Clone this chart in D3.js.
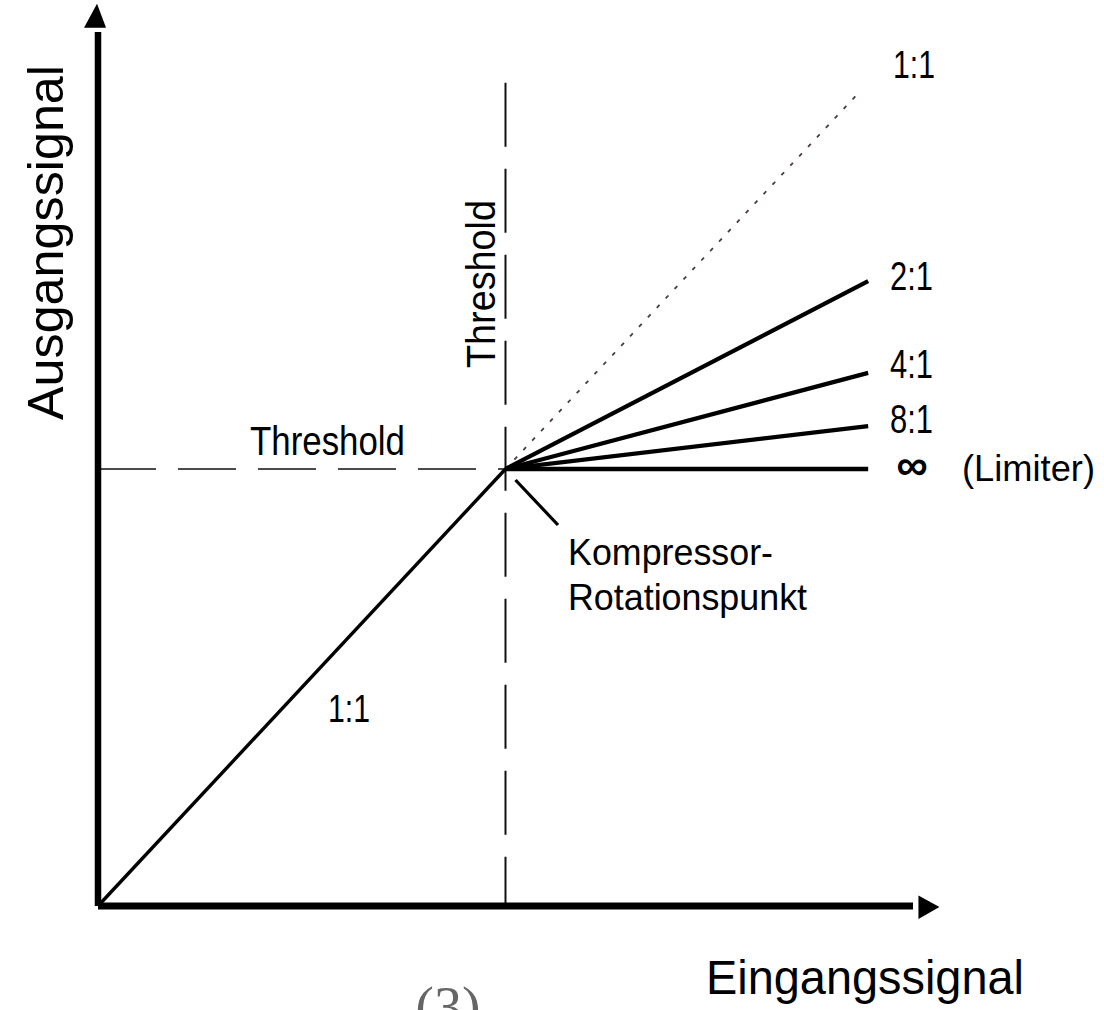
<!DOCTYPE html>
<html>
<head>
<meta charset="utf-8">
<script src="https://cdn.jsdelivr.net/npm/d3@7"></script>
<style>
  body { margin: 0; background: #fff; }
  text { font-family: "Liberation Sans", Arial, Helvetica, sans-serif; fill: #000; }
</style>
</head>
<body>
<svg id="chart" width="1104" height="1010"></svg>
<script>
// signal levels (arbitrary units), threshold at 50
const threshold = 50;
const axisEnd = 103;
const ratioInputEnd = 94.5;
const ratioLabels = ["2:1", "4:1", "8:1", "\u221e"];
const ratioOutputEnd = [71.5, 61, 54.9, 50];
const unityBelow = [[0, 0], [50, 50]];
const unityAbove = [[50, 50], [93.3, 93]];
const thresholdLineTop = 94.2;

const svg = d3.select("#chart");

const x = d3.scaleLinear().domain([0, 100]).range([98, 913]);
const y = d3.scaleLinear().domain([0, 100]).range([906, 32]);

const line = d3.line().x(d => x(d[0])).y(d => y(d[1]));

// threshold guides
svg.append("path")
    .attr("d", line([[threshold, thresholdLineTop], [threshold, 0]]))
    .attr("stroke", "#111").attr("stroke-width", 2)
    .attr("stroke-dasharray", "64 22").attr("fill", "none");

svg.append("path")
    .attr("d", line([[0, threshold], [threshold, threshold]]))
    .attr("stroke", "#111").attr("stroke-width", 1.6)
    .attr("stroke-dasharray", "58 22").attr("fill", "none");

// 1:1 above threshold (dotted)
svg.append("path")
    .attr("d", line(unityAbove))
    .attr("stroke", "#4a3a4a").attr("stroke-width", 1.8)
    .attr("stroke-dasharray", "4 9").attr("fill", "none");

// 1:1 below threshold
svg.append("path")
    .attr("d", line(unityBelow))
    .attr("stroke", "#000").attr("stroke-width", 3.4).attr("fill", "none");

// compression lines
ratioLabels.forEach((r, i) => {
    svg.append("path")
        .attr("d", line([[threshold, threshold], [ratioInputEnd, ratioOutputEnd[i]]]))
        .attr("stroke", "#000").attr("stroke-width", i === 3 ? 4.6 : 4.2)
        .attr("stroke-linecap", "butt").attr("fill", "none");
});

// axes with arrows
svg.append("path")
    .attr("d", line([[0, 0], [0, axisEnd - 3]]))
    .attr("stroke", "#000").attr("stroke-width", 6.5).attr("fill", "none");
svg.append("path")
    .attr("d", line([[0, 0], [axisEnd - 3, 0]]))
    .attr("stroke", "#000").attr("stroke-width", 7).attr("fill", "none");

const tipY = y(axisEnd) - 2, ax = x(0);
svg.append("path")
    .attr("d", `M${ax - 1},${tipY} L${ax - 14},${tipY + 24} L${ax + 8},${tipY + 24} Z`)
    .attr("fill", "#000");
const tipX = x(axisEnd) + 2, ay = y(0) + 1;
svg.append("path")
    .attr("d", `M${tipX},${ay} L${tipX - 21},${ay - 11.5} L${tipX - 21},${ay + 12} Z`)
    .attr("fill", "#000");

// pointer to rotation point
svg.append("line")
    .attr("x1", x(threshold) + 10).attr("y1", y(threshold) + 11)
    .attr("x2", 558).attr("y2", 525)
    .attr("stroke", "#000").attr("stroke-width", 3.2);

// labels
function label(txt, px, py, size, len, anchor) {
    const t = svg.append("text")
        .attr("x", px).attr("y", py)
        .attr("font-size", size)
        .attr("text-anchor", anchor || "start")
        .text(txt);
    if (len) t.attr("textLength", len).attr("lengthAdjust", "spacingAndGlyphs");
    return t;
}

label("Ausgangssignal", 0, 0, 50, 355)
    .attr("transform", "translate(63,420) rotate(-90)");
label("Eingangssignal", 706, 994, 48, 318);

label("Threshold", 250, 455, 40, 155);
label("Threshold", 0, 0, 40, 168)
    .attr("transform", "translate(495,368) rotate(-90)");

label("1:1", 893, 78, 38, 42);
label("1:1", 328, 722, 38, 42);

const labelBase = [290, 378, 433];
ratioLabels.slice(0, 3).forEach((r, i) => label(r, 890, labelBase[i], 40, 43));
label("\u221e", 912, 480, 44, null, "middle").attr("font-weight", "bold");
label("(Limiter)", 962, 481, 37, 133);

label("Kompressor-", 568, 565, 37, 205);
label("Rotationspunkt", 568, 610, 37, 239);

// figure number, cut by the lower edge as in the scan
svg.append("text")
    .attr("x", 448).attr("y", 1026)
    .attr("text-anchor", "middle")
    .attr("font-size", 56)
    .style("font-family", "'Liberation Serif', 'DejaVu Serif', serif")
    .style("fill", "#666")
    .text("(3)");
</script>
</body>
</html>
